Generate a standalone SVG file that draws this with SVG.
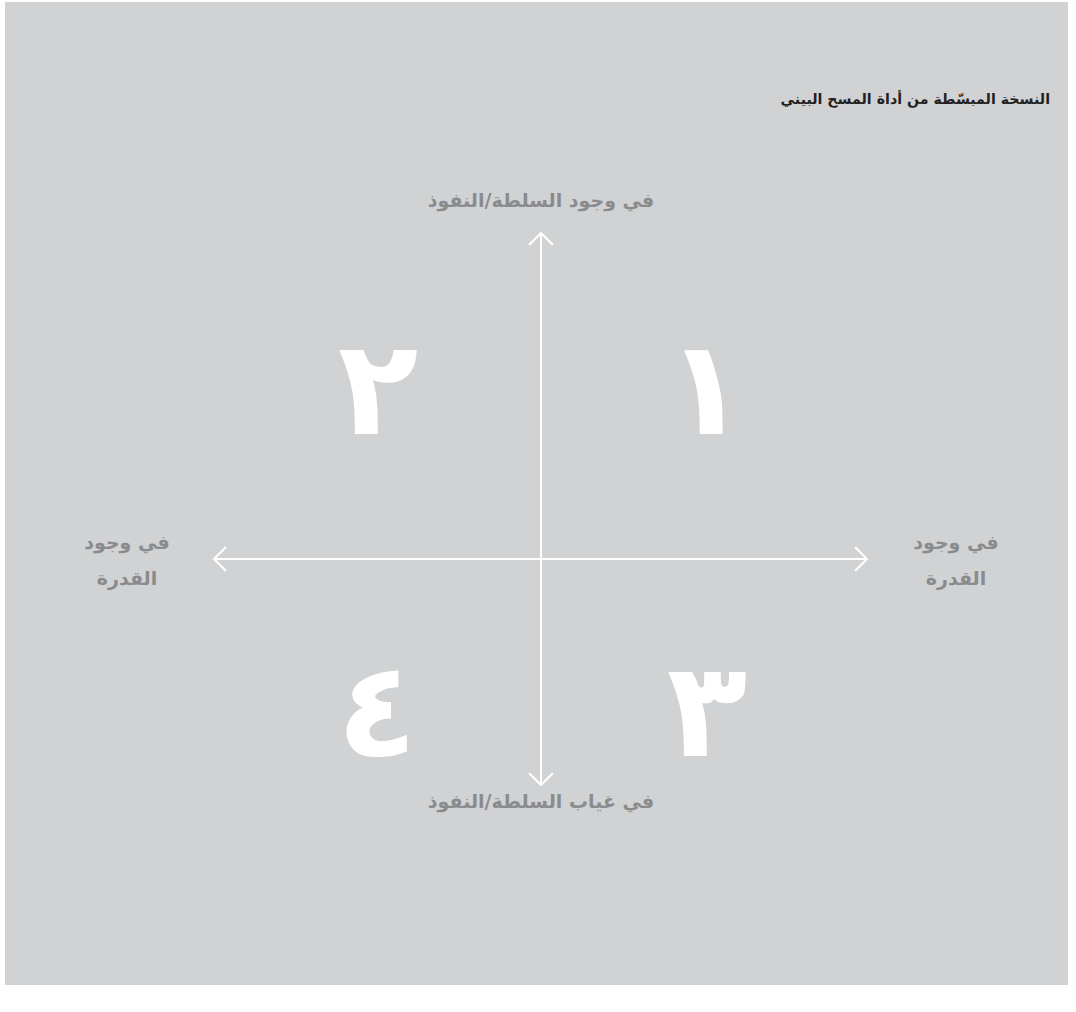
<svg xmlns="http://www.w3.org/2000/svg" width="1076" height="1012" viewBox="0 0 1076 1012">
  <style>
    .title { font-family: "DejaVu Sans", "Liberation Sans", sans-serif; font-weight: bold; font-size: 14.2px; fill: #231f20; }
    .lbl { font-family: "DejaVu Sans", "Liberation Sans", sans-serif; font-weight: bold; font-size: 19px; fill: #8a8b8d; }
    .num { font-family: "DejaVu Sans", "Liberation Sans", sans-serif; font-weight: bold; font-size: 132px; fill: #ffffff; }
    .axis { stroke: #ffffff; stroke-width: 2; fill: none; }
  </style>
  <rect x="0" y="0" width="1076" height="1012" fill="#ffffff"/>
  <rect id="panel" x="5" y="2" width="1063" height="983" fill="#d1d2d4"/>
  <g id="title">
    <text class="title" x="1050" y="104" text-anchor="start" direction="rtl">النسخة المبسّطة من أداة المسح البيني</text>
  </g>
  <g id="connectors">
    <line class="axis" x1="541" y1="233" x2="541" y2="785"/>
    <line class="axis" x1="214" y1="559" x2="867" y2="559"/>
    <polyline class="axis" points="529,245 541,233 553,245"/>
    <polyline class="axis" points="529,773 541,785 553,773"/>
    <polyline class="axis" points="226,547 214,559 226,571"/>
    <polyline class="axis" points="855,547 867,559 855,571"/>
  </g>
  <g id="label-top">
    <text class="lbl" x="541" y="207" text-anchor="middle" direction="rtl">في وجود السلطة/النفوذ</text>
  </g>
  <g id="label-bottom">
    <text class="lbl" x="541" y="808" text-anchor="middle" direction="rtl">في غياب السلطة/النفوذ</text>
  </g>
  <g id="label-left">
    <text class="lbl" x="127" y="549" text-anchor="middle" direction="rtl">في وجود</text>
    <text class="lbl" x="127" y="585" text-anchor="middle" direction="rtl">القدرة</text>
  </g>
  <g id="label-right">
    <text class="lbl" x="956" y="549" text-anchor="middle" direction="rtl">في وجود</text>
    <text class="lbl" x="956" y="585" text-anchor="middle" direction="rtl">القدرة</text>
  </g>
  <g id="q1"><text class="num" x="706" y="434" text-anchor="middle">١</text></g>
  <g id="q2"><text class="num" x="378" y="434" text-anchor="middle">٢</text></g>
  <g id="q3"><text class="num" x="707" y="756" text-anchor="middle">٣</text></g>
  <g id="q4"><text class="num" x="377" y="756" text-anchor="middle">٤</text></g>
</svg>
